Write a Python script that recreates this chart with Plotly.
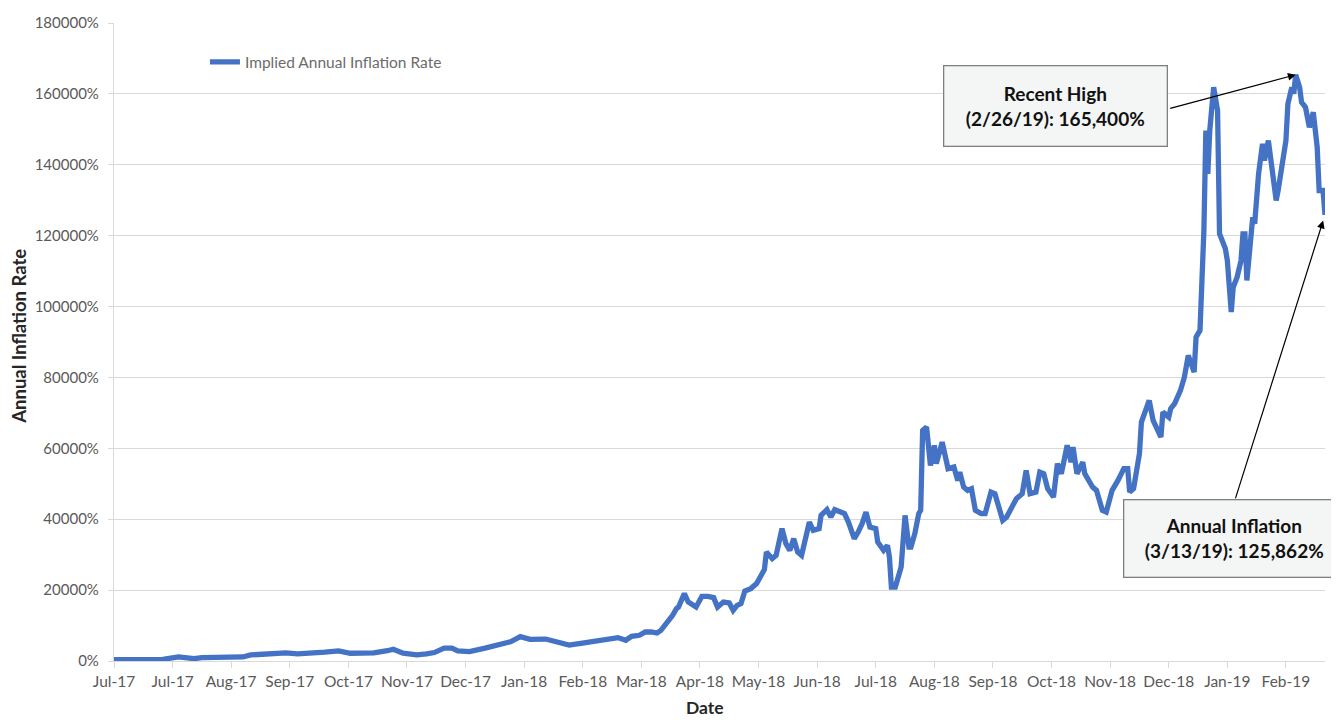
import plotly.graph_objects as go

# ---- data ----
dates = [
    "2017-07-01", "2017-07-13", "2017-07-26", "2017-08-03", "2017-08-08", "2017-08-11", "2017-08-15",
    "2017-08-25", "2017-09-05", "2017-09-09", "2017-09-19", "2017-09-27", "2017-10-03", "2017-10-09",
    "2017-10-17", "2017-10-24", "2017-10-30", "2017-11-05", "2017-11-11", "2017-11-18", "2017-11-21",
    "2017-11-26", "2017-12-03", "2017-12-08", "2017-12-12", "2017-12-17", "2017-12-21", "2017-12-24",
    "2017-12-30", "2018-01-07", "2018-01-15", "2018-01-20", "2018-01-25", "2018-01-30", "2018-02-07",
    "2018-02-13", "2018-02-19", "2018-02-25", "2018-03-03", "2018-03-10", "2018-03-16", "2018-03-20",
    "2018-03-23", "2018-03-27", "2018-03-30", "2018-04-02", "2018-04-05", "2018-04-07", "2018-04-10",
    "2018-04-13", "2018-04-15", "2018-04-16", "2018-04-19", "2018-04-21", "2018-04-25", "2018-04-28",
    "2018-05-01", "2018-05-04", "2018-05-06", "2018-05-09", "2018-05-12", "2018-05-14", "2018-05-16",
    "2018-05-18", "2018-05-20", "2018-05-23", "2018-05-26", "2018-05-30", "2018-05-31", "2018-06-03",
    "2018-06-05", "2018-06-08", "2018-06-10", "2018-06-12", "2018-06-14", "2018-06-16", "2018-06-18",
    "2018-06-20", "2018-06-22", "2018-06-24", "2018-06-27", "2018-06-28", "2018-07-01", "2018-07-03",
    "2018-07-05", "2018-07-08", "2018-07-10", "2018-07-12", "2018-07-15", "2018-07-17", "2018-07-19",
    "2018-07-21", "2018-07-23", "2018-07-26", "2018-07-27", "2018-07-30", "2018-08-01", "2018-08-02",
    "2018-08-03", "2018-08-05", "2018-08-07", "2018-08-08", "2018-08-10", "2018-08-12", "2018-08-13",
    "2018-08-15", "2018-08-17", "2018-08-18", "2018-08-19", "2018-08-21", "2018-08-23", "2018-08-25",
    "2018-08-26", "2018-08-29", "2018-09-01", "2018-09-04", "2018-09-06", "2018-09-07", "2018-09-09",
    "2018-09-11", "2018-09-13", "2018-09-15", "2018-09-18", "2018-09-20", "2018-09-23", "2018-09-25",
    "2018-09-29", "2018-10-01", "2018-10-06", "2018-10-09", "2018-10-11", "2018-10-13", "2018-10-16",
    "2018-10-18", "2018-10-20", "2018-10-22", "2018-10-25", "2018-10-27", "2018-10-29", "2018-11-01",
    "2018-11-03", "2018-11-04", "2018-11-06", "2018-11-09", "2018-11-10", "2018-11-14", "2018-11-16",
    "2018-11-19", "2018-11-21", "2018-11-24", "2018-11-27", "2018-11-30", "2018-12-02", "2018-12-03",
    "2018-12-05", "2018-12-08", "2018-12-09", "2018-12-13", "2018-12-15", "2018-12-19", "2018-12-20",
    "2018-12-23", "2018-12-24", "2018-12-26", "2018-12-29", "2018-12-31", "2019-01-02", "2019-01-05",
    "2019-01-06", "2019-01-08", "2019-01-09", "2019-01-10", "2019-01-11", "2019-01-12", "2019-01-13",
    "2019-01-15", "2019-01-17", "2019-01-18", "2019-01-21", "2019-01-22", "2019-01-24", "2019-01-25",
    "2019-01-27", "2019-01-29", "2019-01-30", "2019-01-31", "2019-02-01", "2019-02-03", "2019-02-04",
    "2019-02-05", "2019-02-07", "2019-02-09", "2019-02-10", "2019-02-12", "2019-02-14", "2019-02-16",
    "2019-02-17", "2019-02-19", "2019-02-21", "2019-02-22", "2019-02-24", "2019-02-25", "2019-02-26",
    "2019-02-28", "2019-03-01", "2019-03-03", "2019-03-04", "2019-03-05", "2019-03-07", "2019-03-09",
    "2019-03-10", "2019-03-12", "2019-03-13",
]

inflation_pct = [
    400, 420, 480, 1140, 800, 670, 950,
    1000, 1140, 1710, 1900, 2290, 2000, 2100,
    2500, 2860, 2190, 2250, 2290, 2900, 3330,
    2190, 1710, 2000, 2380, 3620, 3620, 2860,
    2670, 3620, 4760, 5430, 6860, 6090, 6190,
    5430, 4470, 5000, 5560, 6030, 6600, 5840,
    6970, 7250, 8180, 8180, 7900, 8660, 10550,
    12890, 14800, 15230, 19010, 16640, 15230, 18250,
    18250, 17880, 15230, 16640, 16360, 14300, 15700,
    16190, 19740, 20420, 21830, 25800, 30740, 28880,
    29810, 37340, 33110, 31220, 34520, 30740, 29810,
    34040, 39200, 36860, 37340, 41090, 42690, 40610,
    42690, 42020, 41570, 39200, 34520, 36380, 38750,
    42020, 37790, 37340, 33560, 31220, 32630, 29330,
    20870, 20870, 25100, 26510, 41090, 32150, 32150,
    35930, 41570, 42500, 65060, 65990, 55190, 60830,
    55670, 61760, 54260, 54710, 50960, 53300, 49070,
    48140, 48620, 42500, 41570, 41570, 47660, 47210,
    39680, 40610, 45800, 47210, 53780, 47210, 47660,
    53300, 52850, 48620, 46250, 55670, 52850, 60830,
    56120, 60350, 52850, 56120, 52850, 49070, 48140,
    42500, 42020, 48140, 50960, 54260, 54260, 47660,
    48620, 58490, 67400, 73520, 67880, 63170, 70220,
    68810, 71180, 72590, 76340, 80090, 86210, 81500,
    91370, 93260, 107360, 121460, 149660, 137450, 149660,
    161870, 155300, 120530, 116300, 113000, 98420, 105470,
    108290, 113000, 120530, 120530, 107360, 121460, 125210,
    123350, 137450, 145910, 141200, 146840, 137450, 129920,
    132740, 139310, 146840, 157190, 161870, 160010, 165400,
    161870, 157640, 156230, 153410, 150590, 154820, 144950,
    132740, 132740, 125862,
]

series_name = "Implied Annual Inflation Rate"
x_title = "Date"
y_title = "Annual Inflation Rate"
high_label = "Recent High<br>(2/26/19): 165,400%"
high_date = "2019-02-26"
high_value = 165400
last_label = "Annual Inflation<br>(3/13/19): 125,862%"

FONT = "Lato"
GREY = "#595959"

fig = go.Figure()
fig.add_trace(go.Scatter(
    x=dates, y=inflation_pct, mode="lines", name=series_name,
    line=dict(color="#4472C4", width=5.3),
))

# the page body adds an 8px offset, so the figure is 8px smaller and margins shifted
fig.update_layout(
    width=1331, height=712,
    margin=dict(l=106, r=14, t=15, b=59),
    paper_bgcolor="white", plot_bgcolor="white",
    font=dict(family=FONT, size=15, color=GREY),
    showlegend=True,
    legend=dict(
        x=0.0751, y=0.965, xanchor="left", yanchor="top",
        bgcolor="rgba(0,0,0,0)", font=dict(family=FONT, size=15.5, color="#6b6b6b"),
    ),
    xaxis=dict(
        type="date", automargin=False,
        range=["2017-07-01", "2019-03-13"],
        tick0="2017-07-01", dtick=30 * 86400000,
        tickformat="%b-%y",
        showgrid=False,
        showline=True, linecolor="#d9d9d9", linewidth=1.2,
        ticks="outside", ticklen=6, tickcolor="#d9d9d9",
        tickfont=dict(family=FONT, size=15.5, color=GREY),
        zeroline=False,
    ),
    yaxis=dict(
        automargin=False,
        range=[0, 180000], dtick=20000, tick0=0,
        tickformat="d", ticksuffix="%",
        showgrid=True, gridcolor="#d9d9d9", gridwidth=1,
        showline=True, linecolor="#d9d9d9", linewidth=1.2,
        ticks="outside", ticklen=5, tickcolor="#d9d9d9",
        ticklabelstandoff=6,
        tickfont=dict(family=FONT, size=15, color=GREY),
        zeroline=False,
    ),
)

# axis titles
fig.add_annotation(text=f"<b>{x_title}</b>", xref="paper", yref="paper",
                   x=0.488, y=-0.073, xanchor="center", yanchor="middle",
                   showarrow=False, font=dict(family=FONT, size=17.5, color="#262626"))
fig.add_annotation(text=f"<b>{y_title}</b>", xref="paper", yref="paper",
                   x=-0.078, y=0.509, xanchor="center", yanchor="middle", textangle=-90,
                   showarrow=False, font=dict(family=FONT, size=18.5, color="#262626"))

# callout boxes
box_style = dict(showarrow=False, bgcolor="#f4f6f5", bordercolor="#7f7f7f", borderwidth=1.3,
                 borderpad=4, font=dict(family=FONT, size=19, color="#111111"), align="center")
fig.add_annotation(text=f"<b>{high_label}</b>", xref="paper", yref="paper",
                   x=0.7775, y=0.870, xanchor="center", yanchor="middle",
                   width=214, height=71, **box_style)
fig.add_annotation(text=f"<b>{last_label}</b>", xref="paper", yref="paper",
                   x=0.9249, y=0.192, xanchor="center", yanchor="middle",
                   width=212, height=68, **box_style)

# arrows
fig.add_annotation(text="", x=high_date, y=high_value, xref="x", yref="y",
                   showarrow=True, ax=-127, ay=34, arrowhead=2, arrowsize=1.3,
                   arrowwidth=1.2, arrowcolor="#000000", standoff=0)
fig.add_annotation(text="", x=dates[-1], y=inflation_pct[-1], xref="x", yref="y",
                   showarrow=True, ax=-90, ay=285, arrowhead=2, arrowsize=1.3,
                   arrowwidth=1.2, arrowcolor="#000000", standoff=6)

fig.write_html("out.html")
